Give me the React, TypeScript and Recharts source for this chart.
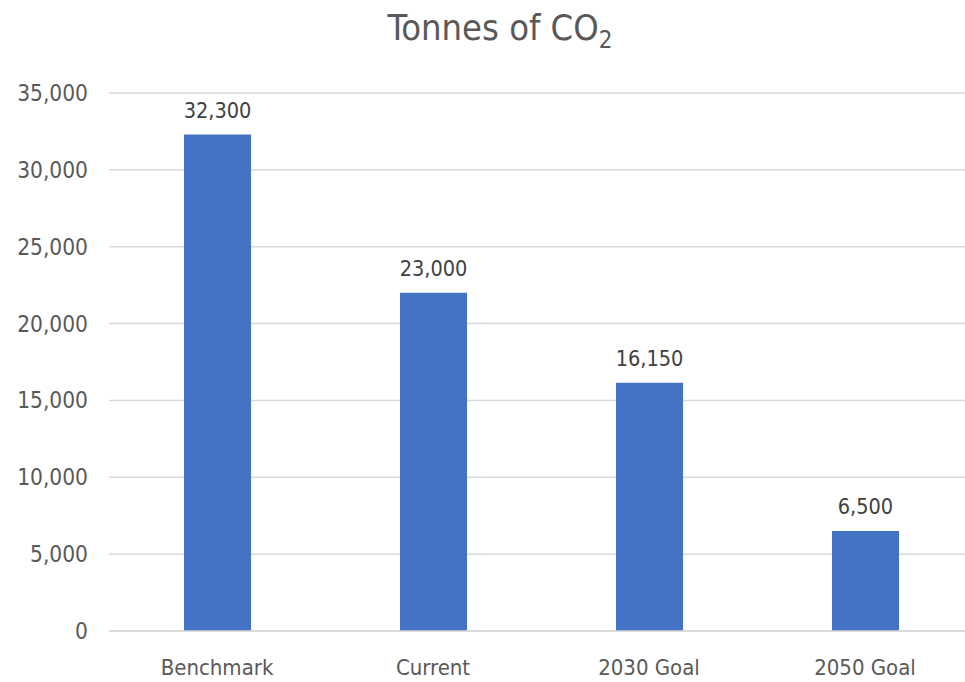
import React from "react";
import { BarChart, Bar, XAxis, YAxis, CartesianGrid, LabelList } from "recharts";

const categories = ["Benchmark", "Current", "2030 Goal", "2050 Goal"];
const values = [32300, 22000, 16150, 6500];
const valueLabels = ["32,300", "23,000", "16,150", "6,500"];
const yTicks = [0, 5000, 10000, 15000, 20000, 25000, 30000, 35000];

const data = categories.map((c, i) => ({ name: c, value: values[i], label: valueLabels[i] }));

const FONT = "'DejaVu Sans Condensed', 'Liberation Sans Narrow', 'Open Sans', sans-serif";

export default function App() {
  return (
    <div style={{ position: "absolute", left: 0, top: 0, width: 965, height: 682, overflow: "hidden", background: "#fff" }}>
      <div
        style={{
          position: "absolute",
          left: 0,
          width: 1000,
          top: 6,
          textAlign: "center",
          fontFamily: FONT,
          fontSize: 36,
          color: "#595959",
          lineHeight: "44px",
        }}
      >
        Tonnes of CO<sub style={{ fontSize: 24, verticalAlign: -8, lineHeight: 0 }}>2</sub>
      </div>
      <BarChart
        width={990}
        height={682}
        data={data}
        margin={{ top: 93, right: 17, bottom: 0, left: 0 }}
        style={{ position: "absolute", left: 0, top: 0 }}
      >
        <CartesianGrid vertical={false} stroke="#d9d9d9" strokeWidth={1.5} />
        <XAxis
          dataKey="name"
          height={51}
          tickLine={false}
          axisLine={{ stroke: "#d9d9d9", strokeWidth: 1.5 }}
          tickSize={0}
          tickMargin={28}
          tick={{ fill: "#595959", fontSize: 22, fontFamily: FONT }}
          interval={0}
        />
        <YAxis
          width={109}
          domain={[0, 35000]}
          ticks={yTicks}
          tickFormatter={(v: number) => v.toLocaleString("en-US")}
          axisLine={false}
          tickLine={false}
          tickSize={0}
          tickMargin={21}
          tick={{ fill: "#595959", fontSize: 22.5, fontFamily: FONT }}
        />
        <Bar dataKey="value" fill="#4472c4" barSize={67} isAnimationActive={false}>
          <LabelList
            dataKey="label"
            position="top"
            offset={17}
            style={{ fill: "#404040", fontSize: 21.5, fontFamily: FONT }}
          />
        </Bar>
      </BarChart>
    </div>
  );
}
